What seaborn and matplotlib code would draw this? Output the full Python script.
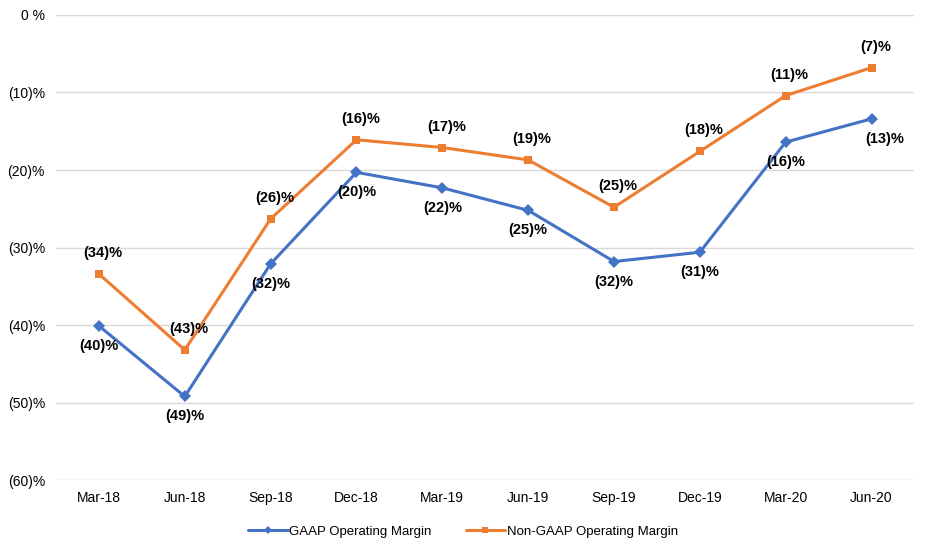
import matplotlib
matplotlib.use("Agg")
import matplotlib.pyplot as plt
from matplotlib.ticker import FuncFormatter
import pandas as pd
import seaborn as sns

sns.set_theme(style="white")
plt.rcParams['font.family'] = ['Liberation Sans', 'DejaVu Sans']
plt.rcParams['text.color'] = 'black'
plt.rcParams['xtick.color'] = 'black'
plt.rcParams['ytick.color'] = 'black'

quarters = ["Mar-18", "Jun-18", "Sep-18", "Dec-18", "Mar-19",
            "Jun-19", "Sep-19", "Dec-19", "Mar-20", "Jun-20"]
gaap = [-40.1, -49.2, -32.1, -20.3, -22.3, -25.2, -31.8, -30.6, -16.4, -13.4]
non_gaap = [-33.4, -43.2, -26.3, -16.1, -17.1, -18.7, -24.8, -17.6, -10.4, -6.8]
gaap_labels = ["(40)%", "(49)%", "(32)%", "(20)%", "(22)%",
               "(25)%", "(32)%", "(31)%", "(16)%", "(13)%"]
non_gaap_labels = ["(34)%", "(43)%", "(26)%", "(16)%", "(17)%",
                   "(19)%", "(25)%", "(18)%", "(11)%", "(7)%"]

names = ["GAAP Operating Margin", "Non-GAAP Operating Margin"]
df = pd.DataFrame({
    "quarter": quarters * 2,
    "margin": gaap + non_gaap,
    "series": [names[0]] * len(quarters) + [names[1]] * len(quarters),
})
df["pos"] = list(range(len(quarters))) * 2

fig = plt.figure(figsize=(9.26, 5.52), dpi=100)
ax = fig.add_axes([0.0605, 0.130, 0.927, 0.843])

palette = {names[0]: "#4472C4", names[1]: "#ED7D31"}
sns.lineplot(data=df, x="pos", y="margin", hue="series", style="series",
             markers={names[0]: "D", names[1]: "s"}, dashes=False,
             palette=palette, linewidth=2.2, markersize=6,
             markeredgewidth=0, ax=ax)

for i in range(len(quarters)):
    dx = 13 if i == len(quarters) - 1 else 0
    ax.annotate(gaap_labels[i], (i, gaap[i]), xytext=(dx, -20),
                textcoords="offset pixels",
                ha="center", va="center", fontsize=10.5, fontweight="bold")
    ax.annotate(non_gaap_labels[i], (i, non_gaap[i]), xytext=(4, 21),
                textcoords="offset pixels",
                ha="center", va="center", fontsize=10.5, fontweight="bold")

ax.set_xlim(-0.5, len(quarters) - 0.5)
ax.set_ylim(-60, 0)
ax.set_xticks(range(len(quarters)))
ax.set_xticklabels(quarters)
ax.set_yticks(range(-60, 1, 10))
ax.yaxis.set_major_formatter(FuncFormatter(
    lambda v, p: "0 %" if v == 0 else "({:d})%".format(int(round(-v)))))
ax.tick_params(axis="both", labelsize=10, length=0, pad=8)
ax.grid(axis="y", color="#D9D9D9", linewidth=1)
for s in ax.spines.values():
    s.set_visible(False)
ax.set_xlabel("")
ax.set_ylabel("")

leg = ax.legend(loc="upper center", bbox_to_anchor=(0.474, -0.072), ncol=2,
                frameon=False, fontsize=9.5, handlelength=3.0, columnspacing=2.6,
                handletextpad=0.1)
for h in leg.legend_handles:
    h.set_markersize(4)

fig.savefig("out.png", dpi=100)
